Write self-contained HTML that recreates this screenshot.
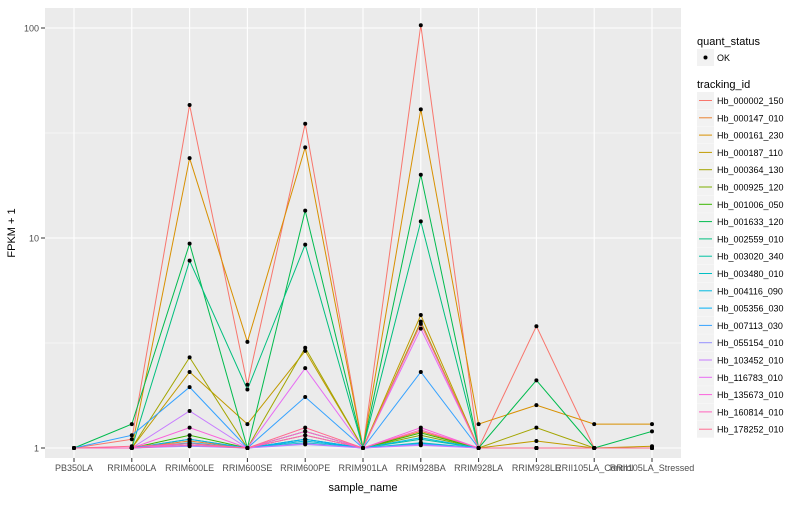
<!DOCTYPE html>
<html><head><meta charset="utf-8">
<style>
body{margin:0;background:#fff;font-family:"Liberation Sans",sans-serif;}
svg text{font-family:"Liberation Sans",sans-serif;}
</style></head>
<body>
<svg id="chart" width="800" height="500" xmlns="http://www.w3.org/2000/svg">
<rect x="0" y="0" width="800" height="500" fill="#fff"/>
<rect x="45" y="8" width="636" height="450" fill="#EBEBEB"/>
<g id="grid"></g>
<g id="lines"></g>
<g id="points"></g>
<g id="axes"></g>
<text x="363" y="491" font-size="11" text-anchor="middle" fill="#000">sample_name</text>
<text transform="translate(15,233) rotate(-90)" font-size="11" text-anchor="middle" fill="#000">FPKM + 1</text>
<g id="legend"></g>
</svg>
<script>
const categories=["PB350LA","RRIM600LA","RRIM600LE","RRIM600SE","RRIM600PE","RRIM901LA","RRIM928BA","RRIM928LA","RRIM928LE","RRII105LA_Control","RRII105LA_Stressed"];
const seriesNames=["Hb_000002_150","Hb_000147_010","Hb_000161_230","Hb_000187_110","Hb_000364_130","Hb_000925_120","Hb_001006_050","Hb_001633_120","Hb_002559_010","Hb_003020_340","Hb_003480_010","Hb_004116_090","Hb_005356_030","Hb_007113_030","Hb_055154_010","Hb_103452_010","Hb_116783_010","Hb_135673_010","Hb_160814_010","Hb_178252_010"];
const seriesColors=["#F8766D","#EA8331","#D89000","#C09B00","#A3A500","#7CAE00","#39B600","#00BB4E","#00BF7D","#00C1A3","#00BFC4","#00BAE0","#00B0F6","#35A2FF","#9590FF","#C77CFF","#E76BF3","#FA62DB","#FF62BC","#FF6C91"];
const s00=[1,1.1,43,2.0,35,1,103,1,3.8,1,1];
const s01=[1,1,1.08,1,1.1,1,1.2,1,1,1,1];
const s02=[1,1,24,3.2,27,1,41,1.3,1.6,1.3,1.3];
const s03=[1,1,2.3,1.3,2.9,1,4.3,1,1.08,1,1.02];
const s04=[1,1,2.7,1,3.0,1,4.0,1,1.25,1,1];
const s05=[1,1,1.1,1,1.15,1,1.15,1,1,1,1];
const s06=[1,1,1.15,1,1.2,1,1.18,1,1,1,1];
const s07=[1,1.3,9.4,1,13.5,1,20,1,2.1,1,1.2];
const s08=[1,1,7.8,1.9,9.3,1,12,1,1,1,1];
const s09=[1,1,1.05,1,1.1,1,1.1,1,1,1,1];
const s10=[1,1,1.03,1,1.06,1,1.06,1,1,1,1];
const s11=[1,1,1.06,1,1.08,1,1.12,1,1,1,1];
const s12=[1,1,1.1,1,1.1,1,1.05,1,1,1,1];
const s13=[1,1.15,1.95,1,1.75,1,2.3,1,1,1,1];
const s14=[1,1,1.02,1,1.04,1,1.04,1,1,1,1];
const s15=[1,1,1.5,1,1.05,1,1.03,1,1,1,1];
const s16=[1,1,1.05,1,2.4,1,3.7,1,1,1,1];
const s17=[1,1,1.25,1,1.2,1,1.25,1,1,1,1];
const s18=[1,1,1.03,1,1.15,1,1.22,1,1,1,1];
const s19=[1,1.02,1.05,1,1.25,1,3.9,1,1,1,1];
const seriesValues=[s00,s01,s02,s03,s04,s05,s06,s07,s08,s09,s10,s11,s12,s13,s14,s15,s16,s17,s18,s19];
const yTicks=[1,10,100];
const yTickLabels=["1","10","100"];
const yMinor=[3.1623,31.623];

const NS="http://www.w3.org/2000/svg";
function xs(i){return 74+i*57.8;}
function ys(v){return 448-210*Math.log10(v);}
function mk(tag,attrs,parent){const e=document.createElementNS(NS,tag);for(const k in attrs)e.setAttribute(k,attrs[k]);parent.appendChild(e);return e;}
const grid=document.getElementById('grid'),lines=document.getElementById('lines'),pts=document.getElementById('points'),axes=document.getElementById('axes'),leg=document.getElementById('legend');
yMinor.forEach(v=>{const l=mk('line',{x1:45,x2:681,y1:ys(v),y2:ys(v),stroke:'#fff','stroke-width':0.6},grid);

});
yTicks.forEach((v,i)=>{const l=mk('line',{x1:45,x2:681,y1:ys(v),y2:ys(v),stroke:'#fff','stroke-width':1.1},grid);


const t=mk('text',{x:39,y:ys(v)+3.5,'font-size':9,'text-anchor':'end',fill:'#4d4d4d'},axes);t.textContent=yTickLabels[i];


mk('line',{x1:41,x2:45,y1:ys(v),y2:ys(v),stroke:'#333'},axes);});
categories.forEach((c,i)=>{const l=mk('line',{x1:xs(i),x2:xs(i),y1:8,y2:458,stroke:'#fff','stroke-width':1.1},grid);


mk('line',{x1:xs(i),x2:xs(i),y1:458,y2:462,stroke:'#333'},axes);
const t=mk('text',{x:xs(i),y:471,'font-size':9,'text-anchor':'middle',fill:'#4d4d4d'},axes);t.textContent=c;

});
seriesValues.forEach((vals,s)=>{const d=vals.map((v,i)=>(i?'L':'M')+xs(i).toFixed(1)+','+ys(v).toFixed(1)).join(' ');
const p=mk('path',{d:d,fill:'none',stroke:seriesColors[s],'stroke-width':1},lines);


vals.forEach((v,i)=>{const c=mk('circle',{cx:xs(i),cy:ys(v),r:2,fill:'#000'},pts);

});});
// legend
let t=mk('text',{x:697,y:45,'font-size':11,fill:'#000'},leg);t.textContent='quant_status';


mk('rect',{x:697,y:49,width:17,height:17,fill:'#F2F2F2'},leg);
mk('circle',{cx:705.5,cy:57.5,r:2,fill:'#000'},leg);
t=mk('text',{x:717,y:61,'font-size':9,fill:'#000'},leg);t.textContent='OK';


t=mk('text',{x:697,y:88,'font-size':11,fill:'#000'},leg);t.textContent='tracking_id';


seriesNames.forEach((n,s)=>{const y0=92+s*17.3;
mk('rect',{x:697,y:y0,width:17,height:17,fill:'#F2F2F2'},leg);
mk('line',{x1:699,x2:712,y1:y0+8.5,y2:y0+8.5,stroke:seriesColors[s],'stroke-width':1},leg);
const tt=mk('text',{x:717,y:y0+12,'font-size':9,fill:'#000'},leg);tt.textContent=n;

});
</script>
</body></html>
